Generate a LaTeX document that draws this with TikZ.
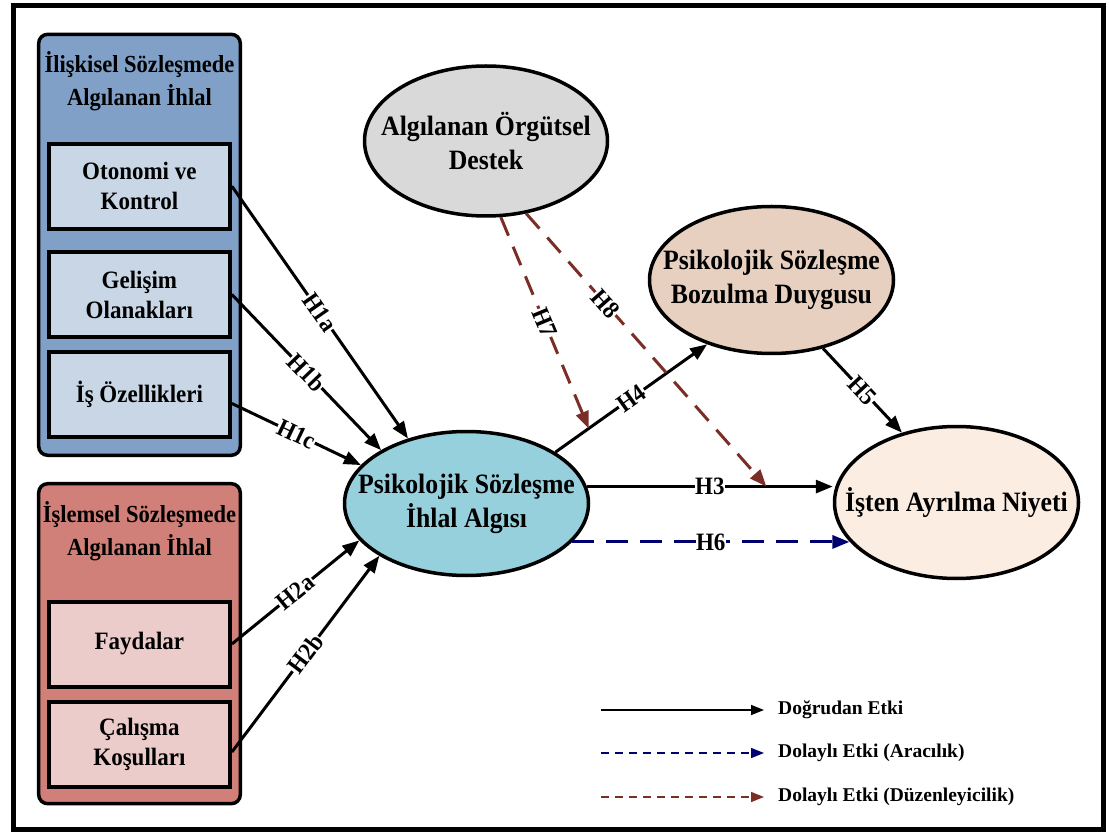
\documentclass[tikz,border=0pt]{standalone}
\usepackage{fontspec}
\setmainfont{Liberation Serif}[FakeStretch=0.92]
\newfontfamily\legfont{Liberation Serif}
\usetikzlibrary{arrows.meta,shapes.geometric}

\definecolor{relfill}{RGB}{128,160,199}
\definecolor{relbox}{RGB}{200,214,230}
\definecolor{trafill}{RGB}{209,128,121}
\definecolor{trabox}{RGB}{236,204,203}
\definecolor{destekfill}{RGB}{217,217,217}
\definecolor{bozfill}{RGB}{231,208,192}
\definecolor{ihlalfill}{RGB}{151,208,221}
\definecolor{istenfill}{RGB}{252,237,227}
\definecolor{modbrown}{RGB}{122,46,38}
\definecolor{mednavy}{RGB}{0,0,110}

\begin{document}
\begin{tikzpicture}[x=1pt,y=-1pt,
  ell/.style={ellipse, draw, line width=3.5pt, inner sep=0pt},
  etext/.style={align=center, font=\fontsize{28}{34}\selectfont\bfseries, inner sep=0pt},
  grp/.style={draw, line width=3.5pt, rounded corners=9pt, minimum width=201.6pt, inner sep=0pt},
  gtitle/.style={align=center, font=\fontsize{24.5}{33}\selectfont\bfseries, inner sep=0pt},
  ibox/.style={draw, line width=4pt, minimum width=181pt, minimum height=85pt, align=center,
               font=\fontsize{25}{30}\selectfont\bfseries, inner sep=0pt},
  link/.style={line width=3pt, -{Triangle[length=17pt,width=13pt]}},
  medlink/.style={link, mednavy, dash pattern=on 22pt off 12pt},
  modlink/.style={link, modbrown, dash pattern=on 20pt off 12pt},
  hlab/.style={fill=white, text=black, inner sep=0.5pt, font=\fontsize{25}{25}\selectfont\bfseries, sloped},
  legline/.style={line width=1.5pt, -{Triangle[length=13pt,width=10pt]}},
  legtxt/.style={anchor=west, inner sep=0pt, font=\legfont\fontsize{19.5}{19.5}\selectfont\bfseries}
]
\useasboundingbox (0,0) rectangle (1109,834);

% outer frame
\draw[line width=5pt] (13.5,5.5) rectangle (1103,829);

% relational contract group
\node[grp, fill=relfill, minimum height=421pt] (relgrp) at (139.5,244.8) {};
\node[gtitle] (reltitle) at (139.5,81.5) {İlişkisel Sözleşmede\\Algılanan İhlal};
\node[ibox, fill=relbox] (otonomi) at (139.4,186.2) {Otonomi ve\\Kontrol};
\node[ibox, fill=relbox] (gelisim) at (139.4,294.5) {Gelişim\\Olanakları};
\node[ibox, fill=relbox] (isoz) at (139.4,394.5) {İş Özellikleri};

% transactional contract group
\node[grp, fill=trafill, minimum height=320pt] (tragrp) at (139.5,643.7) {};
\node[gtitle] (tratitle) at (139.5,531.5) {İşlemsel Sözleşmede\\Algılanan İhlal};
\node[ibox, fill=trabox] (fayda) at (139.4,644) {Faydalar};
\node[ibox, fill=trabox] (calisma) at (139.4,744) {Çalışma\\Koşulları};

% constructs
\node[ell, fill=destekfill, minimum width=243pt, minimum height=150pt] (destek) at (486,141) {};
\node[etext] (destek-t) at (destek) {Algılanan Örgütsel\\Destek};
\node[ell, fill=bozfill, minimum width=244pt, minimum height=147pt] (boz) at (771.5,280) {};
\node[etext] (boz-t) at (boz) {Psikolojik Sözleşme\\Bozulma Duygusu};
\node[ell, fill=ihlalfill, minimum width=244pt, minimum height=144pt] (ihlal) at (466.5,503.5) {};
\node[etext] (ihlal-t) at (ihlal) {Psikolojik Sözleşme\\İhlal Algısı};
\node[ell, fill=istenfill, minimum width=244pt, minimum height=152pt] (isten) at (956.5,502.5) {};
\node[etext] (isten-t) at (isten) {İşten Ayrılma Niyeti};

% direct effects
\draw[link] (otonomi.east) -- (ihlal.132) node[hlab, midway] {H1a};
\draw[link] (gelisim.east) -- (ihlal.148) node[hlab, midway] {H1b};
\draw[link] ([yshift=-9pt]isoz.east) -- (ihlal.160) node[hlab, midway] {H1c};
\draw[link] (fayda.east) -- (ihlal.199) node[hlab, midway] {H2a};
\draw[link] ([yshift=-8pt]calisma.east) -- (ihlal.211) node[hlab, midway] {H2b};
\draw[link] (ihlal.8) -- (ihlal.8 -| isten.west) node[hlab, midway] {H3}
  coordinate[pos=0.73] (h8end);
\draw[link] (ihlal.30) -- (boz.225) node[hlab, midway] {H4}
  coordinate[pos=0.22] (h7end);
\draw[link] (boz.307) -- (isten.128) node[hlab, midway] {H5};

% mediation
\draw[medlink] (ihlal.340) -- (ihlal.340 -| isten.200) node[hlab, midway] {H6};

% moderation
\draw[modlink] (destek.281) -- (h7end) node[hlab, midway] {H7};
\draw[modlink] (destek.299) -- (h8end) node[hlab, pos=0.33] {H8};

% legend
\coordinate (lg1s) at (601,710);
\coordinate (lg1e) at (764,710);
\coordinate (lg2s) at (601,753);
\coordinate (lg2e) at (764,753);
\coordinate (lg3s) at (601,797);
\coordinate (lg3e) at (764,797);
\draw[legline] (lg1s) -- (lg1e);
\draw[legline, mednavy, dash pattern=on 8pt off 6pt] (lg2s) -- (lg2e);
\draw[legline, modbrown, dash pattern=on 8pt off 6pt] (lg3s) -- (lg3e);
\node[legtxt] (lgt1) at (778,710) {Doğrudan Etki};
\node[legtxt] (lgt2) at (778,753) {Dolaylı Etki (Aracılık)};
\node[legtxt] (lgt3) at (778,797) {Dolaylı Etki (Düzenleyicilik)};
\end{tikzpicture}
\end{document}
